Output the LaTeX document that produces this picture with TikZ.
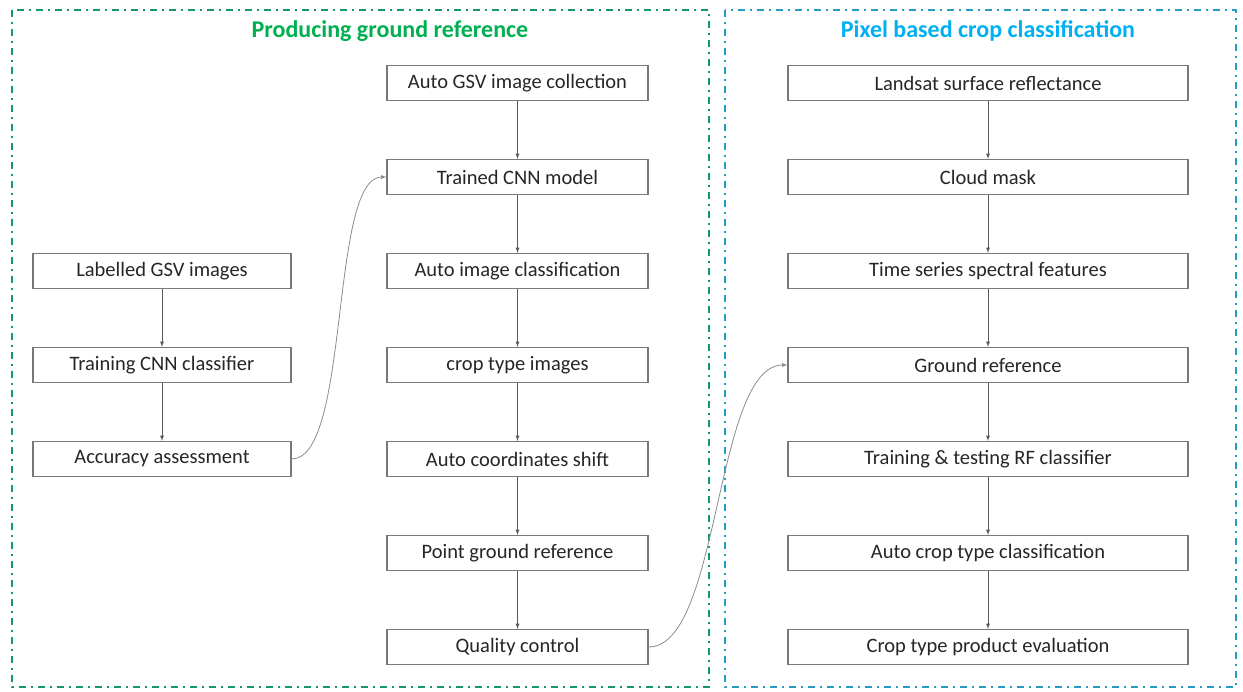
\documentclass[tikz,border=0pt]{standalone}
\usepackage{fontspec}
\setmainfont{Carlito}
\usepackage{tikz}
\usetikzlibrary{arrows, positioning}
\definecolor{titlegreen}{RGB}{0,176,80}
\definecolor{titleblue}{RGB}{0,176,240}
\definecolor{framegreen}{RGB}{20,150,110}
\definecolor{frameblue}{RGB}{40,155,195}
\definecolor{boxgray}{RGB}{120,120,120}
\definecolor{linegray}{RGB}{90,90,90}
\tikzstyle{stage}=[rectangle, draw=boxgray, line width=1.2pt, fill=white, minimum height=35pt, text=black!85, font=\fontsize{20.5}{24}\selectfont]
\tikzstyle{feed}=[<-, >=latex, draw=linegray, line width=0.8pt]
\tikzstyle{link}=[->, >=latex, draw=black!45, line width=0.8pt]
\tikzstyle{frame}=[line width=2pt, dash pattern=on 7pt off 5pt on 2pt off 5pt]
\tikzstyle{heading}=[font=\fontsize{24}{28}\selectfont\bfseries]

\begin{document}
\begin{tikzpicture}[x=1pt, y=-1pt, node distance=94pt]
    \useasboundingbox (0,0) rectangle (1243,692);
    \draw[frame, framegreen] (12,10) rectangle (709,687);
    \draw[frame, frameblue] (725,10) rectangle (1236,687);
    \node[heading, text=titlegreen] (ttlL) at (390,31) {Producing ground reference};
    \node[heading, text=titleblue] (ttlR) at (988,31) {Pixel based crop classification};

    % left column
    \node[stage, minimum width=258pt] (lab) at (162,271) {Labelled GSV images};
    \node[stage, minimum width=258pt] (trn) [below of=lab] {Training CNN classifier}
          edge [feed] (lab);
    \node[stage, minimum width=258pt] (acc) [below of=trn] {Accuracy assessment}
          edge [feed] (trn);

    % middle column
    \node[stage, minimum width=261pt] (col) at (517.5,83) {Auto GSV image collection};
    \node[stage, minimum width=261pt] (cnn) [below of=col] {Trained CNN model}
          edge [feed] (col);
    \node[stage, minimum width=261pt] (aic) [below of=cnn] {Auto image classification}
          edge [feed] (cnn);
    \node[stage, minimum width=261pt] (cti) [below of=aic] {crop type images}
          edge [feed] (aic);
    \node[stage, minimum width=261pt] (acs) [below of=cti] {Auto coordinates shift}
          edge [feed] (cti);
    \node[stage, minimum width=261pt] (pgr) [below of=acs] {Point ground reference}
          edge [feed] (acs);
    \node[stage, minimum width=261pt] (qc) [below of=pgr] {Quality control}
          edge [feed] (pgr);

    % right column
    \node[stage, minimum width=400pt] (lsr) at (988,83) {Landsat surface reflectance};
    \node[stage, minimum width=400pt] (cm) [below of=lsr] {Cloud mask}
          edge [feed] (lsr);
    \node[stage, minimum width=400pt] (tss) [below of=cm] {Time series spectral features}
          edge [feed] (cm);
    \node[stage, minimum width=400pt] (gr) [below of=tss] {Ground reference}
          edge [feed] (tss);
    \node[stage, minimum width=400pt] (rf) [below of=gr] {Training \& testing RF classifier}
          edge [feed] (gr);
    \node[stage, minimum width=400pt] (act) [below of=rf] {Auto crop type classification}
          edge [feed] (rf);
    \node[stage, minimum width=400pt] (ev) [below of=act] {Crop type product evaluation}
          edge [feed] (act);

    % links between columns
    \draw[link] (acc.east) .. controls +(59,0) and +(-57,0) .. (cnn.west);
    \draw[link] (qc.east) .. controls +(72,0) and +(-73,0) .. (gr.west);
\end{tikzpicture}
\end{document}
